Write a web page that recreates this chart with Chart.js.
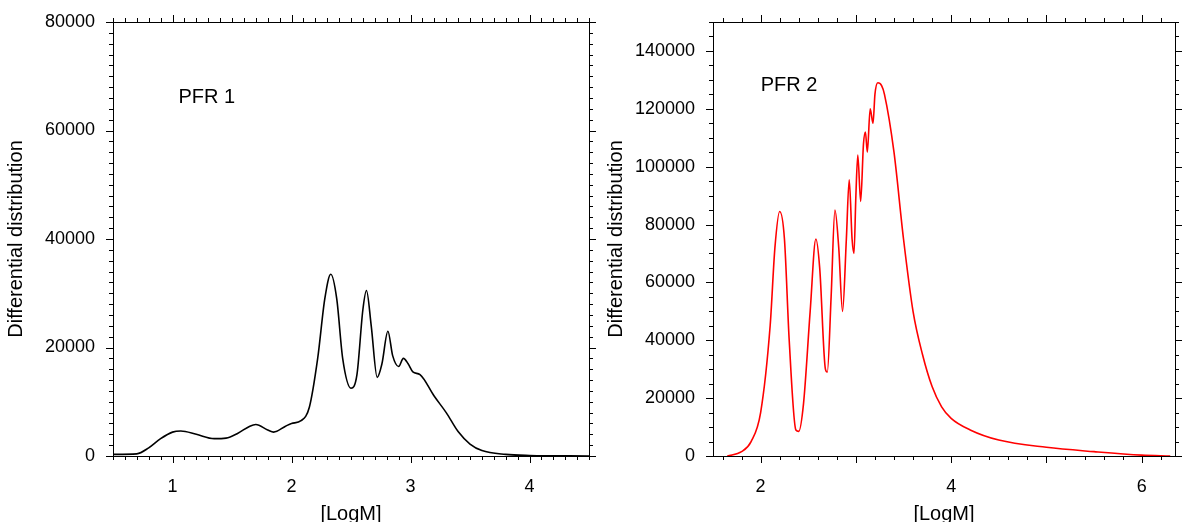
<!DOCTYPE html>
<html><head><meta charset="utf-8">
<script src="https://cdn.jsdelivr.net/npm/chart.js@4/dist/chart.umd.min.js"></script>
<style>
body{margin:0;background:#fff;width:1185px;height:522px;overflow:hidden;font-family:"Liberation Sans",Arial,sans-serif}
.box{position:absolute;top:0;height:522px}
</style></head><body>
<div class="box" style="left:0;width:600px"><canvas id="c1"></canvas></div>
<div class="box" style="left:600px;width:585px"><canvas id="c2"></canvas></div>
<script>
// PFR 1 distribution
const logM1 = [0.5,0.7,0.8,0.9,1.0,1.07,1.2,1.35,1.45,1.55,1.65,1.7,1.8,1.85,1.95,2.0,2.08,2.15,2.22,2.28,2.33,2.38,2.43,2.5,2.55,2.6,2.63,2.67,2.72,2.76,2.81,2.85,2.9,2.94,2.98,3.02,3.08,3.2,3.3,3.4,3.5,3.6,3.8,4.0,4.5];
const dist1 = [300,400,1500,3200,4400,4600,4000,3200,3300,4200,5500,5800,4800,4400,5500,6000,6500,9000,18000,29000,33500,29000,18000,12500,15000,27000,30500,24000,14500,17000,23000,18500,16500,18000,17000,15500,15000,11000,8000,4500,2200,1000,300,100,0];
// PFR 2 distribution
const logM2 = [1.65,1.8,1.9,2.0,2.1,2.15,2.2,2.25,2.3,2.37,2.4,2.45,2.52,2.58,2.62,2.68,2.7,2.74,2.78,2.82,2.86,2.9,2.93,2.96,2.98,3.0,3.02,3.05,3.08,3.1,3.12,3.15,3.18,3.2,3.23,3.27,3.3,3.4,3.5,3.6,3.7,3.8,3.9,4.0,4.2,4.5,5.0,5.5,6.0,6.3];
const dist2 = [0,1500,5000,15000,45000,72000,84500,75000,40000,9000,8500,18000,50000,75000,65000,30000,29000,55000,85000,72000,50000,75000,95500,75000,70000,90000,104000,88000,108000,112000,105000,120000,115000,125000,129000,128000,125000,105000,75000,50000,35000,24000,17000,13000,9000,5500,3000,1500,300,0];
const xTicks1 = [1,2,3,4];
const xTicks2 = [2,4,6];
const yTicks1 = [0,20000,40000,60000,80000];
const yTicks2 = [0,20000,40000,60000,80000,100000,120000,140000];

function ticksPlugin(xMinor, yMinor, label, lx, ly){
  return {
    id:'extras',
    afterDraw(chart){
      const ctx=chart.ctx, a=chart.chartArea, xs=chart.scales.x, ys=chart.scales.y;
      ctx.save();
      ctx.strokeStyle='#000'; ctx.lineWidth=1;
      ctx.strokeRect(a.left+0.5,a.top+0.5,a.right-a.left,a.bottom-a.top);
      ctx.beginPath();
      const eps=1e-9;
      for(let v=Math.ceil(xs.min/xMinor-eps)*xMinor; v<=xs.max+eps; v+=xMinor){
        const p=Math.round(xs.getPixelForValue(v))+0.5;
        const major=Math.abs(v-Math.round(v))<1e-6;
        const L=major?7:4;
        ctx.moveTo(p,a.bottom); ctx.lineTo(p,a.bottom+L);
        ctx.moveTo(p,a.top); ctx.lineTo(p,a.top-L);
      }
      for(let v=0; v<=ys.max+eps; v+=yMinor){
        const p=Math.round(ys.getPixelForValue(v))+0.5;
        const major=Math.abs(v/20000-Math.round(v/20000))<1e-6;
        const L=major?7:4;
        ctx.moveTo(a.left,p); ctx.lineTo(a.left-L,p);
        ctx.moveTo(a.right,p); ctx.lineTo(a.right+L,p);
      }
      ctx.stroke();
      ctx.fillStyle='#000'; ctx.font='20px "Liberation Sans", Arial, sans-serif';
      ctx.textBaseline='middle';
      ctx.fillText(label, xs.getPixelForValue(lx), ys.getPixelForValue(ly));
      ctx.restore();
    }
  };
}

function makeChart(id, xs, ys, color, xmin, xmax, ymax, xT, yT, xMinor, yMinor, label, lx, ly, padR){
  new Chart(document.getElementById(id), {
    type:'line',
    data:{datasets:[{data:xs.map((x,i)=>({x:x,y:ys[i]})), borderColor:color, borderWidth:1.6, pointRadius:0, tension:0.4, cubicInterpolationMode:'monotone', fill:false}]},
    options:{
      responsive:false, animation:false, maintainAspectRatio:false,
      layout:{padding:{top:22,right:padR,left:0,bottom:0}},
      plugins:{legend:{display:false},tooltip:{enabled:false}},
      scales:{
        x:{type:'linear',min:xmin,max:xmax,
          border:{display:false},
          grid:{display:false},
          afterBuildTicks(s){s.ticks=xT.map(v=>({value:v}));},
          ticks:{color:'#000',font:{size:18,family:'"Liberation Sans", Arial'},padding:12,maxRotation:0,autoSkip:false,callback:v=>String(v)},
          title:{display:true,text:'[LogM]',color:'#000',font:{size:20,family:'"Liberation Sans", Arial'},padding:{top:16,bottom:-4}},
          afterFit(s){s.height=66;}},
        y:{min:0,max:ymax,
          border:{display:false},
          grid:{display:false},
          afterBuildTicks(s){s.ticks=yT.map(v=>({value:v}));},
          ticks:{color:'#000',font:{size:18,family:'"Liberation Sans", Arial'},padding:10,autoSkip:false,callback:v=>String(v)},
          title:{display:true,text:'Differential distribution',color:'#000',font:{size:20,family:'"Liberation Sans", Arial'},padding:{bottom:2}},
          afterFit(s){s.width=113;}}
      }
    },
    plugins:[ticksPlugin(xMinor,yMinor,label,lx,ly)]
  });
}
const c1=document.getElementById('c1'); c1.width=600; c1.height=522;
const c2=document.getElementById('c2'); c2.width=585; c2.height=522;
makeChart('c1',logM1,dist1,'#000',0.5,4.5,80000,xTicks1,yTicks1,0.1,2000,'PFR 1',1.05,66000,11);
makeChart('c2',logM2,dist2,'#ff0000',1.5,6.35,150000,xTicks2,yTicks2,0.2,5000,'PFR 2',2.0,128000,10);
</script>
</body></html>
